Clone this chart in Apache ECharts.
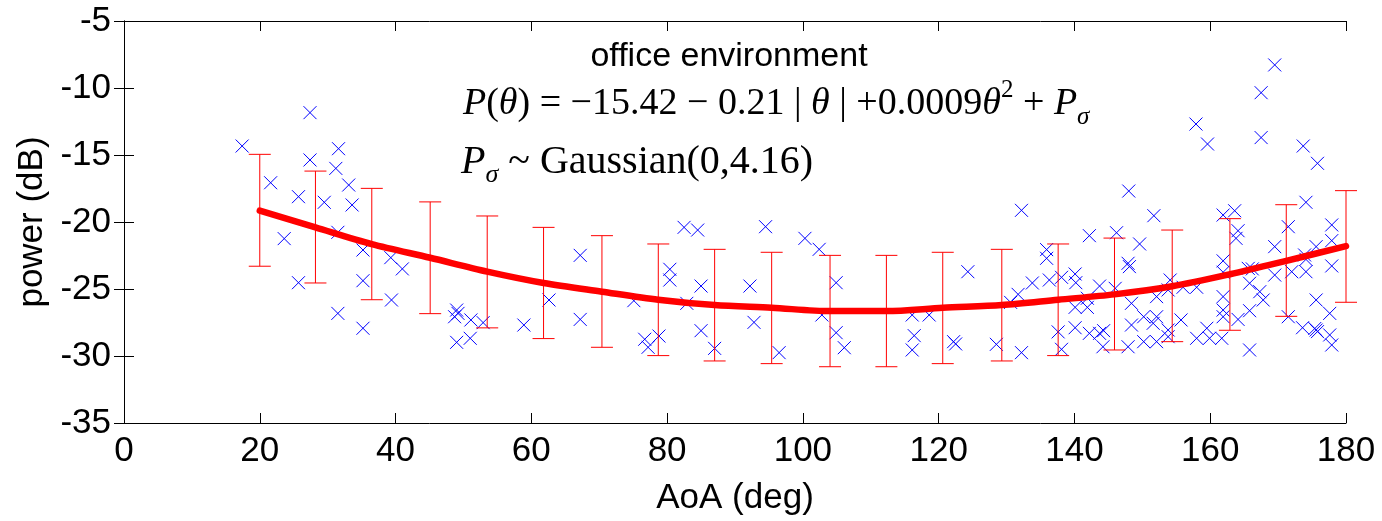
<!DOCTYPE html>
<html>
<head>
<meta charset="utf-8">
<script src="https://cdn.jsdelivr.net/npm/echarts@6/dist/echarts.min.js"></script>
<style>html,body{margin:0;padding:0;background:#fff}#c{width:1382px;height:521px}</style>
</head>
<body>
<div id="c"></div>
<script>
// measured points [AoA (deg), power (dB)]
const measuredPoints = [
 [17.4,-14.33],[27.4,-11.84],[21.6,-17.07],[31.6,-14.53],[27.4,-15.37],[31.2,-16.0],[33.1,-17.24],[25.7,-18.11],[29.5,-18.53],[33.6,-18.73],
 [23.6,-21.24],[31.5,-20.77],[35.2,-22.09],[39.3,-22.66],[41.0,-23.5],[25.7,-24.53],[35.2,-24.38],[39.4,-25.82],[31.5,-26.82],[35.2,-27.93],
 [49.0,-26.57],[49.2,-26.82],[48.7,-27.07],[51.1,-27.31],[52.9,-27.51],[49.0,-28.98],[51.0,-28.68],[58.9,-27.69],[62.6,-25.82],[67.2,-22.49],
 [67.2,-27.27],[75.1,-25.87],[76.7,-28.75],[77.2,-29.35],[78.8,-28.51],[80.4,-23.53],[80.4,-24.33],[82.5,-20.4],[84.5,-20.6],[82.9,-26.07],
 [85.0,-24.78],[85.0,-28.11],[87.0,-29.43],[92.2,-24.78],[92.8,-27.49],[94.5,-20.35],[96.5,-29.75],[100.3,-21.22],[102.4,-22.04],[102.8,-26.94],
 [104.9,-24.53],[104.9,-28.26],[106.1,-29.38],[116.1,-26.94],[118.6,-26.94],[116.4,-28.48],[116.1,-29.55],[122.2,-28.93],[122.5,-29.1],[124.3,-23.71],
 [128.5,-29.13],[130.6,-26.0],[131.7,-25.4],[132.2,-19.13],[132.2,-29.75],[133.8,-24.55],[135.9,-22.06],[135.9,-22.71],[136.3,-24.33],[137.6,-28.2],
 [138.1,-24.13],[138.1,-29.5],[140.1,-23.88],[140.2,-24.53],[140.1,-26.37],[140.1,-27.89],[141.9,-25.69],[141.9,-26.37],[142.2,-21.02],[142.2,-28.31],
 [143.7,-24.78],[143.7,-28.31],[144.3,-28.11],[144.2,-29.31],[146.2,-20.8],[146.0,-24.95],[148.0,-17.69],[149.6,-21.64],[147.9,-23.08],[148.1,-23.33],
 [148.4,-26.07],[150.2,-27.07],[148.4,-27.69],[151.6,-27.56],[152.1,-27.07],[147.9,-29.31],[150.2,-28.93],[152.1,-28.93],[151.7,-19.53],[152.1,-25.57],
 [153.8,-25.07],[154.1,-24.33],[153.8,-28.06],[153.8,-28.56],[155.7,-27.31],[156.0,-24.87],[158.0,-24.87],[158.0,-28.68],[159.5,-27.93],[159.9,-28.68],
 [161.7,-28.68],[161.9,-19.48],[161.9,-22.9],[161.9,-23.75],[161.9,-25.57],[161.9,-26.57],[161.9,-27.07],[157.9,-12.69],[159.6,-14.18],[167.5,-10.35],
 [167.5,-13.7],[169.5,-8.28],[173.7,-14.33],[175.8,-15.62],[174.1,-18.53],[163.6,-19.16],[171.5,-20.35],[177.9,-20.22],[164.1,-20.65],[163.8,-21.22],
 [177.9,-21.39],[169.5,-21.84],[175.6,-21.84],[173.9,-22.46],[174.1,-22.79],[177.9,-23.28],[165.6,-23.46],[166.2,-23.5],[169.5,-23.96],[172.0,-23.71],
 [174.1,-23.71],[165.8,-24.57],[167.3,-25.2],[167.8,-25.82],[175.6,-25.82],[177.6,-26.82],[165.8,-26.62],[164.1,-27.27],[171.5,-27.07],[173.6,-27.89],
 [175.4,-27.95],[175.6,-28.06],[175.8,-28.18],[177.6,-28.43],[177.9,-29.18],[165.8,-29.55]
];

// fitted model curve, sampled at the error-bar positions
const fitAoA   = [20, 28.2, 36.5, 45.1, 53.5, 61.8, 70.4, 78.7, 87.0, 95.4, 104.0, 112.3, 120.6, 129.3, 137.6, 145.9, 154.4, 162.9, 171.2, 180];
const fitPower = [-19.15, -20.4, -21.65, -22.67, -23.7, -24.55, -25.2, -25.8, -26.2, -26.4, -26.65, -26.65, -26.4, -26.2, -25.8, -25.4, -24.8, -23.9, -22.9, -21.8];
const errTop    = [-14.95, -16.2, -17.49, -18.5, -19.55, -20.4, -21.02, -21.64, -22.04, -22.26, -22.49, -22.49, -22.26, -22.04, -21.64, -21.2, -20.6, -19.75, -18.71, -17.66];
const errBottom = [-23.3, -24.55, -25.8, -26.84, -27.9, -28.7, -29.35, -29.97, -30.37, -30.57, -30.8, -30.8, -30.57, -30.37, -29.97, -29.55, -28.93, -28.08, -27.04, -25.99];

const xRange = {min: 0, max: 180, interval: 20};
const yRange = {min: -35, max: -5, interval: 5};

const titleText = 'office environment';
const eqLine1 = '{i|P}({i|θ}) = −15.42 − 0.21 | {i|θ} | +0.0009{i|θ}{sup|2} + {i|P}{sub|σ}';
const eqLine2 = '{i|P}{sub|σ} ~ Gaussian(0,4.16)';

const chart = echarts.init(document.getElementById('c'), null, {renderer: 'canvas'});

const sansFont = 'Liberation Sans, Arial, Helvetica, sans-serif';
const serifFont = 'Liberation Serif, Times New Roman, serif';

const axisCommon = {
  axisLine: {show: true, lineStyle: {color: '#000', width: 1}},
  axisTick: {show: true, inside: true, length: 10, lineStyle: {color: '#000', width: 1}},
  splitLine: {show: false}
};

function eqRich(size) {
  const sub = Math.round(size * 0.65);
  return {
    i: {fontStyle: 'italic', fontFamily: serifFont, fontSize: size, lineHeight: 52},
    sub: {fontStyle: 'italic', fontFamily: serifFont, fontSize: sub, lineHeight: sub, verticalAlign: 'bottom'},
    sup: {fontFamily: serifFont, fontSize: sub, lineHeight: sub, verticalAlign: 'top'}
  };
}

const option = {
  animation: false,
  backgroundColor: '#fff',
  grid: {left: 124, right: 36, top: 21, bottom: 98, containLabel: false},
  xAxis: [
    Object.assign({
      type: 'value', position: 'bottom', min: xRange.min, max: xRange.max, interval: xRange.interval,
      name: 'AoA (deg)', nameLocation: 'middle', nameGap: 75,
      nameTextStyle: {fontFamily: sansFont, fontSize: 35, color: '#000', verticalAlign: 'middle'},
      axisLabel: {fontFamily: sansFont, fontSize: 35, color: '#000', margin: 11}
    }, axisCommon),
    Object.assign({
      type: 'value', position: 'top', min: xRange.min, max: xRange.max, interval: xRange.interval,
      axisLabel: {show: false}
    }, axisCommon)
  ],
  yAxis: [
    Object.assign({
      type: 'value', position: 'left', min: yRange.min, max: yRange.max, interval: yRange.interval,
      name: 'power (dB)', nameLocation: 'middle', nameGap: 81, nameRotate: 90,
      nameTextStyle: {fontFamily: sansFont, fontSize: 35, color: '#000', verticalAlign: 'middle'},
      axisLabel: {fontFamily: sansFont, fontSize: 35, color: '#000', margin: 13}
    }, axisCommon),
    Object.assign({
      type: 'value', position: 'right', min: yRange.min, max: yRange.max, interval: yRange.interval,
      axisLabel: {show: false}
    }, axisCommon)
  ],
  graphic: [
    {type: 'text', x: 729, y: 57, silent: true,
     style: {text: titleText, align: 'center', verticalAlign: 'middle',
             fontFamily: sansFont, fontSize: 34, fill: '#000'}},
    {type: 'text', x: 463, y: 104, silent: true,
     style: {text: eqLine1, align: 'left', verticalAlign: 'middle', fontFamily: serifFont,
             fontSize: 38, lineHeight: 52, fill: '#000', rich: eqRich(38)}},
    {type: 'text', x: 461, y: 162, silent: true,
     style: {text: eqLine2, align: 'left', verticalAlign: 'middle', fontFamily: serifFont,
             fontSize: 40, lineHeight: 52, fill: '#000', rich: eqRich(40)}}
  ],
  series: [
    {
      type: 'scatter', xAxisIndex: 0, yAxisIndex: 0,
      data: measuredPoints,
      symbol: 'path://M0,0L10,10M10,0L0,10',
      symbolSize: 13,
      itemStyle: {color: 'rgba(0,0,0,0)', borderColor: '#0000ff', borderWidth: 1, opacity: 1},
      z: 2
    },
    {
      type: 'custom', xAxisIndex: 0, yAxisIndex: 0,
      data: fitAoA.map((a, i) => [a, errTop[i], errBottom[i]]),
      renderItem: function (params, api) {
        const top = api.coord([api.value(0), api.value(1)]);
        const bot = api.coord([api.value(0), api.value(2)]);
        const hw = 11;
        const st = {stroke: '#ff0000', lineWidth: 1};
        return {
          type: 'group',
          children: [
            {type: 'line', shape: {x1: top[0], y1: top[1], x2: bot[0], y2: bot[1]}, style: st},
            {type: 'line', shape: {x1: top[0] - hw, y1: top[1], x2: top[0] + hw, y2: top[1]}, style: st},
            {type: 'line', shape: {x1: bot[0] - hw, y1: bot[1], x2: bot[0] + hw, y2: bot[1]}, style: st}
          ]
        };
      },
      z: 3
    },
    {
      type: 'line', xAxisIndex: 0, yAxisIndex: 0,
      data: fitAoA.map((a, i) => [a, fitPower[i]]),
      showSymbol: false, symbol: 'none', smooth: 0.3,
      lineStyle: {color: '#ff0000', width: 6.5, cap: 'round', join: 'round'},
      z: 4
    }
  ]
};
chart.setOption(option);
</script>
</body>
</html>
